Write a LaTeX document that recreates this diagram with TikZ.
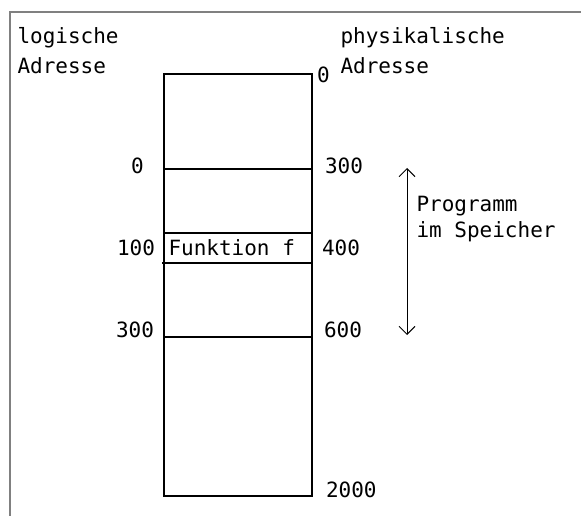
\documentclass[tikz,border=0pt]{standalone}
\usepackage{fontspec}
\setmonofont{DejaVu Sans Mono}
\usetikzlibrary{arrows.meta}
\definecolor{cframe}{HTML}{808080}
\tikzset{
  every picture/.style={font=\ttfamily\fontsize{21}{30}\selectfont, line width=1pt},
  lbl/.style={inner sep=0pt, anchor=base west},
  head/.style={lbl, align=left},
  note/.style={lbl, align=left, font=\ttfamily\fontsize{21}{26}\selectfont},
  frame/.style={draw=cframe, line width=2pt},
  mem/.style={draw=black, line width=1.2pt},
  span/.style={{Straight Barb[length=8pt, width=16pt]}-{Straight Barb[length=8pt, width=16pt]}, line width=1pt},
}

\begin{document}
\begin{tikzpicture}[x=1pt, y=-1pt]
  \useasboundingbox (0,0) rectangle (581,516);
  % frame, only top and left edge visible
  \draw[frame] (581,12) -- (10,12) -- (10,516);

  % memory column
  \draw[mem] (164,74) rectangle (312,496);
  \draw[mem] (164,169) -- (312,169);
  \draw[mem] (164,233) -- (312,233);
  \draw[mem] (162,263) -- (312,263);
  \draw[mem] (164,337) -- (312,337);

  % headings (base = last line)
  \node[head] (logaddr) at (17,74) {logische\\Adresse};
  \node[head] (physaddr) at (340,74) {physikalische\\Adresse};

  % logical addresses
  \node[lbl] (log0) at (130.5,174) {0};
  \node[lbl] (log100) at (116.5,255) {100};
  \node[lbl] (log300) at (115.5,337) {300};

  % physical addresses
  \node[lbl] (phys0) at (316.5,83) {0};
  \node[lbl] (phys300) at (324.5,174) {300};
  \node[lbl] (phys400) at (321.5,255) {400};
  \node[lbl] (phys600) at (323.5,337) {600};
  \node[lbl] (phys2000) at (325.5,497) {2000};

  \node[lbl] (func) at (168,255) {Funktion f};

  % extent of the program
  \coordinate (progtop) at (407,168);
  \coordinate (progbot) at (407,335);
  \draw[span] (progtop) -- (progbot);
  \node[note] (prog) at (416,237) {Programm\\im Speicher};
\end{tikzpicture}
\end{document}
